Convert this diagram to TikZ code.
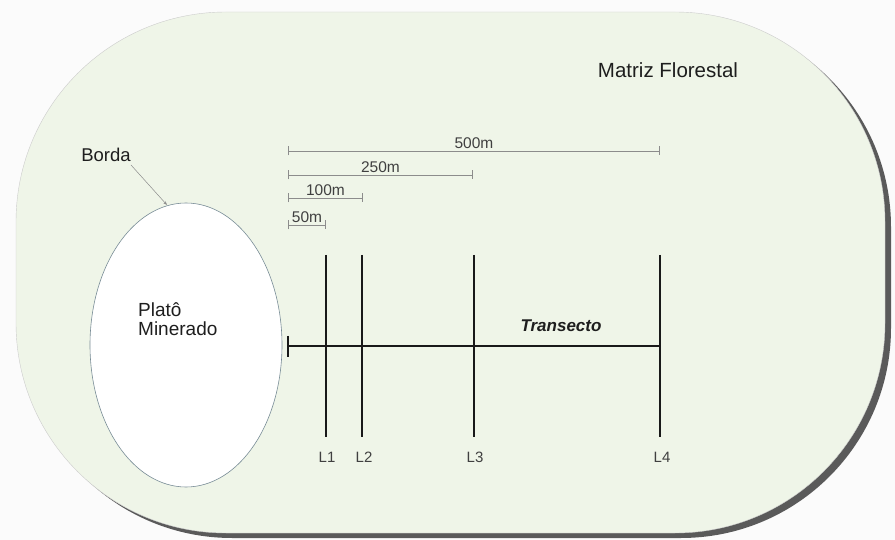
\documentclass[tikz,border=0pt]{standalone}
\usepackage{fontspec}
\setmainfont{Liberation Sans}
\usetikzlibrary{arrows.meta,shapes.geometric}
\definecolor{matriz}{RGB}{239,245,232}
\definecolor{pagebg}{RGB}{251,251,251}
\definecolor{shadowc}{RGB}{90,90,90}
\definecolor{dimc}{RGB}{140,140,140}
\definecolor{txt}{RGB}{30,30,30}
\definecolor{platoedge}{RGB}{120,140,150}
\begin{document}
\begin{tikzpicture}[x=1pt,y=-1pt,
  lbl/.style={text=txt, inner sep=0pt, anchor=base},
  dimline/.style={draw=dimc, line width=0.6pt, {Bar[width=9pt,line width=0.6pt]}-{Bar[width=9pt,line width=0.6pt]}},
  dimtxt/.style={text=txt!85, inner sep=2pt, font=\fontsize{15.5}{16}\selectfont},
  sampling/.style={draw=black!90, line width=1.8pt},
  lname/.style={lbl, font=\fontsize{15}{16}\selectfont, text=txt!85}]
\useasboundingbox (0,0) rectangle (895,540);
\fill[pagebg] (0,0) rectangle (895,540);
% shadow and forest matrix
\fill[shadowc, rounded corners=210pt] (22,17) rectangle (891,538);
\filldraw[fill=matriz, draw=black!20, line width=0.4pt, rounded corners=210pt] (16,12) rectangle (885,533);
% plateau
\node[draw=platoedge, fill=white, ellipse, line width=0.6pt, minimum width=192pt, minimum height=284pt, inner sep=0pt] (plato) at (186,345) {};
\node[lbl, anchor=north west, align=left, font=\fontsize{19}{18.5}\selectfont] (platotxt) at (138,302.5) {Platô\\Minerado};
% labels
\node[lbl, font=\fontsize{20.5}{22}\selectfont] (matriztxt) at (668,78) {Matriz Florestal};
\node[lbl, font=\fontsize{18.5}{20}\selectfont] (borda) at (106,162) {Borda};
\coordinate (bordaend) at (167,205);
\draw[draw=dimc, line width=0.5pt, -{Stealth[length=4pt,width=3pt]}] (131,165) -- (bordaend);
% transect
\coordinate (t0) at (288,346);
\coordinate (t4) at (660,346);
\coordinate (tickA) at (288,336);
\coordinate (tickB) at (288,357);
\draw[sampling] (t0) -- (t4);
\draw[sampling] (tickA) -- (tickB);
\node[lbl, font=\bfseries\itshape\fontsize{17}{18}\selectfont] (transecto) at (561,332) {Transecto};
% sampling lines
\foreach \n/\x in {1/326,2/362,3/474,4/660}{
  \coordinate (top\n) at (\x,255);
  \coordinate (bot\n) at (\x,437);
  \draw[sampling] (top\n) -- (bot\n);
}
\node[lname] (L1) at (327,462) {L1};
\node[lname] (L2) at (364,462) {L2};
\node[lname] (L3) at (475,462) {L3};
\node[lname] (L4) at (662,462) {L4};
% distance bars
\coordinate (d0a) at (288,151); \coordinate (d500) at (660,151);
\coordinate (d0b) at (288,175); \coordinate (d250) at (473,175);
\coordinate (d0c) at (288,198); \coordinate (d100) at (363,198);
\coordinate (d0d) at (288,225); \coordinate (d50) at (326,225);
\draw[dimline] (d0a) -- (d500) node[dimtxt, midway, above] (t500) {500m};
\draw[dimline] (d0b) -- (d250) node[dimtxt, midway, above] (t250) {250m};
\draw[dimline] (d0c) -- (d100) node[dimtxt, midway, above] (t100) {100m};
\draw[dimline] (d0d) -- (d50) node[dimtxt, midway, above] (t50) {50m};
\end{tikzpicture}
\end{document}
